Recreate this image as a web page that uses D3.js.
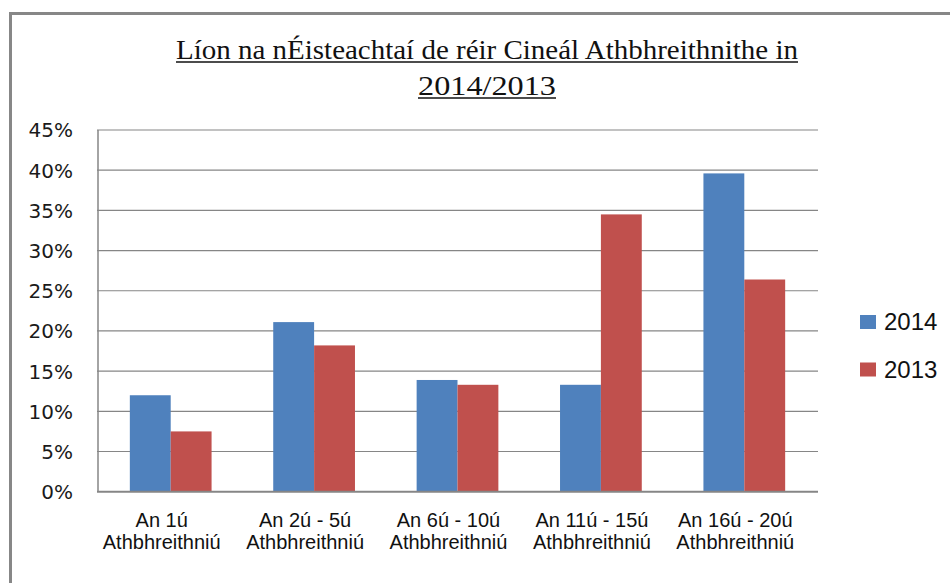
<!DOCTYPE html>
<html>
<head>
<meta charset="utf-8">
<script src="https://cdn.jsdelivr.net/npm/d3@7"></script>
<style>
  body { margin: 0; background: #fff; }
  svg { display: block; }
</style>
</head>
<body>
<div id="chart"></div>
<script>
// categories (two lines each) and series values in percent
const categories = ["An 1ú", "An 2ú - 5ú", "An 6ú - 10ú", "An 11ú - 15ú", "An 16ú - 20ú"];
const categorySub = "Athbhreithniú";
const seriesNames = ["2014", "2013"];
const values2014 = [12.0, 21.1, 13.9, 13.3, 39.6];
const values2013 = [7.5, 18.2, 13.3, 34.5, 26.4];
const yTicks = [0, 5, 10, 15, 20, 25, 30, 35, 40, 45];
const titleLines = ["Líon na nÉisteachtaí de réir Cineál Athbhreithnithe in", "2014/2013"];

const width = 950;
const height = 583;
const colors = ["#4F81BD", "#C0504D"];
const gridColor = "#868686";

const svg = d3.select("#chart")
    .append("svg")
    .attr("width", width)
    .attr("height", height);

svg.append("rect").attr("width", width).attr("height", height).attr("fill", "#fff");

// chart border (left + top visible)
svg.append("path")
    .attr("d", `M10.5,${height + 5} L10.5,13.5 L${width + 5},13.5`)
    .attr("fill", "none")
    .attr("stroke", "#878787")
    .attr("stroke-width", 3);

// title
const titleFits = [622, 138];
const titleBase = [59, 95];
titleLines.forEach((t, i) => {
    svg.append("text")
        .attr("x", 487)
        .attr("y", titleBase[i])
        .attr("text-anchor", "middle")
        .attr("font-family", "'Liberation Serif', serif")
        .attr("font-size", 27)
        .attr("fill", "#111")
        .attr("textLength", titleFits[i])
        .attr("lengthAdjust", "spacingAndGlyphs")
        .text(t);
    svg.append("line")
        .attr("x1", 487 - titleFits[i] / 2)
        .attr("x2", 487 + titleFits[i] / 2)
        .attr("y1", titleBase[i] + 3)
        .attr("y2", titleBase[i] + 3)
        .attr("stroke", "#111")
        .attr("stroke-width", 1.3);
});

// scales
const x = d3.scaleBand()
    .domain(categories)
    .range([99, 816])
    .paddingInner(0.43)
    .paddingOuter(0.215);

const xSeries = d3.scaleBand()
    .domain(seriesNames)
    .range([0, x.bandwidth()]);

const y = d3.scaleLinear()
    .domain([0, 45])
    .range([491.7, 130]);

// gridlines
svg.append("g")
    .selectAll("line")
    .data(yTicks.filter(d => d > 0))
    .join("line")
    .attr("x1", 97)
    .attr("x2", 818)
    .attr("y1", d => y(d))
    .attr("y2", d => y(d))
    .attr("stroke", gridColor)
    .attr("stroke-width", 1.2);

// y labels
svg.append("g")
    .selectAll("text")
    .data(yTicks)
    .join("text")
    .attr("x", 73)
    .attr("y", d => y(d))
    .attr("dy", "0.37em")
    .attr("text-anchor", "end")
    .attr("font-family", "'DejaVu Sans', sans-serif")
    .attr("font-size", 20)
    .attr("fill", "#1a1a1a")
    .text(d => d + "%");

// bars
const rows = categories.map((c, i) => ({ cat: c, vals: [values2014[i], values2013[i]] }));

const groups = svg.append("g")
    .selectAll("g")
    .data(rows)
    .join("g")
    .attr("transform", d => `translate(${x(d.cat)},0)`);

groups.selectAll("rect")
    .data(d => d.vals.map((v, j) => ({ name: seriesNames[j], v, j })))
    .join("rect")
    .attr("x", d => xSeries(d.name))
    .attr("width", xSeries.bandwidth())
    .attr("y", d => y(d.v))
    .attr("height", d => y(0) - y(d.v))
    .attr("fill", d => colors[d.j]);

// axes lines
svg.append("line")
    .attr("x1", 98).attr("x2", 98)
    .attr("y1", 130).attr("y2", 492)
    .attr("stroke", gridColor).attr("stroke-width", 1.5);
svg.append("line")
    .attr("x1", 97).attr("x2", 818)
    .attr("y1", 491.7).attr("y2", 491.7)
    .attr("stroke", gridColor).attr("stroke-width", 2);

// x labels
const xl = svg.append("g")
    .selectAll("text")
    .data(categories)
    .join("text")
    .attr("text-anchor", "middle")
    .attr("font-family", "'Liberation Sans', Arial, sans-serif")
    .attr("font-size", 20)
    .attr("fill", "#111");
xl.append("tspan")
    .attr("x", d => x(d) + x.bandwidth() / 2 - 9)
    .attr("y", 527)
    .text(d => d);
xl.append("tspan")
    .attr("x", d => x(d) + x.bandwidth() / 2 - 9)
    .attr("y", 549)
    .text(categorySub);

// legend
const legend = svg.append("g")
    .selectAll("g")
    .data(seriesNames)
    .join("g")
    .attr("transform", (d, i) => `translate(860,${315 + i * 47.5})`);
legend.append("rect")
    .attr("width", 16)
    .attr("height", 14)
    .attr("fill", (d, i) => colors[i]);
legend.append("text")
    .attr("x", 24)
    .attr("y", 15)
    .attr("font-family", "'Liberation Sans', Arial, sans-serif")
    .attr("font-size", 24)
    .attr("fill", "#111")
    .text(d => d);
</script>
</body>
</html>
